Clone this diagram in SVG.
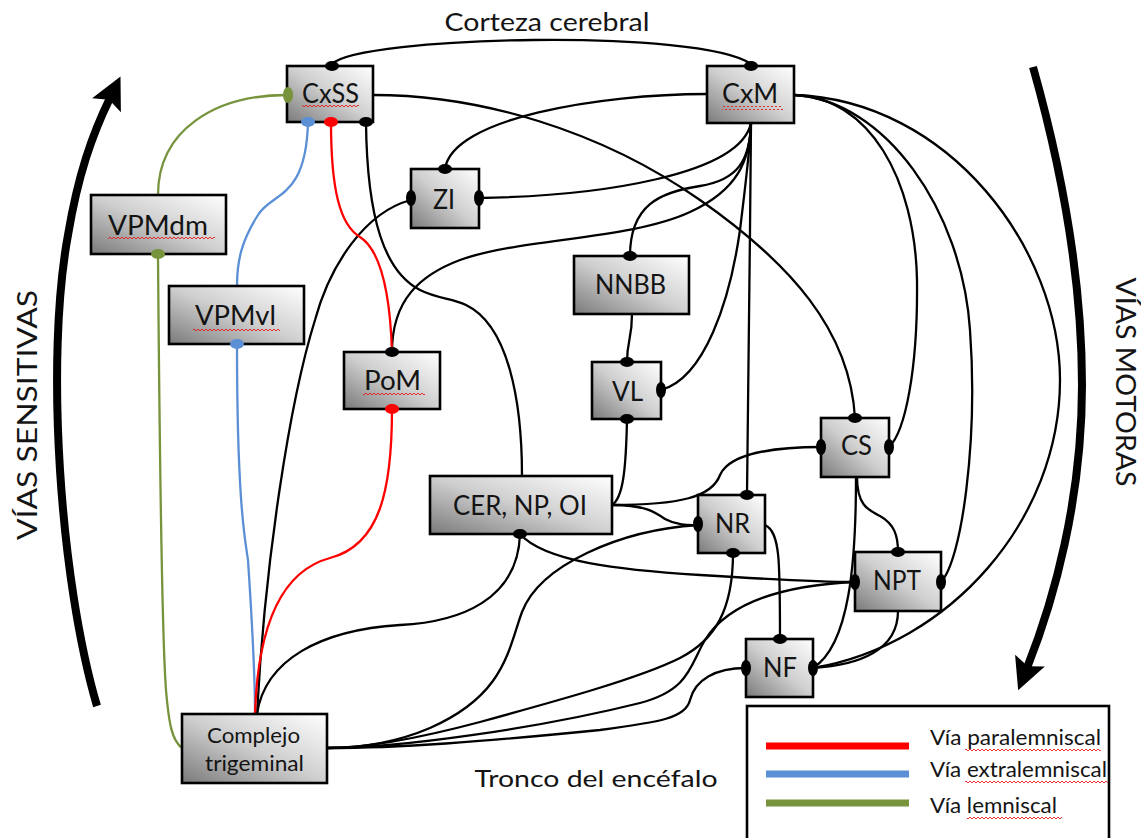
<svg xmlns="http://www.w3.org/2000/svg" width="1141" height="838" viewBox="0 0 1141 838">
<style>
.box{stroke:#000;stroke-width:2.6;fill:url(#g)}
.lbl{font-family:Lato,"Liberation Sans",sans-serif;font-size:26px;fill:#141414;text-anchor:middle}
.t{font-family:Lato,"Liberation Sans",sans-serif;fill:#141414}
.c{fill:none;stroke:#000;stroke-width:2.3}
.red{fill:none;stroke:#ff0000;stroke-width:2.3}
.blue{fill:none;stroke:#5b8fd6;stroke-width:2.3}
.green{fill:none;stroke:#77933c;stroke-width:2.3}
.big{fill:none;stroke:#000;stroke-width:8}
.sq{fill:url(#wave)}
</style>
<defs>
<linearGradient id="g" x1="0" y1="1" x2="1" y2="0">
<stop offset="0" stop-color="#7a7a7a"/>
<stop offset="0.5" stop-color="#cfcfcf"/>
<stop offset="1" stop-color="#ffffff"/>
</linearGradient>
<pattern id="wave" width="4" height="4" patternUnits="userSpaceOnUse">
<path d="M0,3 L2,1 L4,3" stroke="#e31b1b" stroke-width="0.9" fill="none"/>
</pattern>
<marker id="ah" orient="auto" markerUnits="userSpaceOnUse" markerWidth="1" markerHeight="1" overflow="visible" refX="0" refY="0">
<path d="M24,0 L-8,-16 L-2,0 L-8,16 Z" fill="#000"/>
</marker>
</defs>
<rect width="1141" height="838" fill="#fff"/>

<!-- big arrows -->
<path class="big" d="M97,706 C60,580 45,360 68,235 C78,175 92,135 110,98" marker-end="url(#ah)"/>
<path class="big" d="M1033,67 C1062,170 1082,280 1082,385 C1082,500 1054,600 1027,668" marker-end="url(#ah)"/>

<!-- side / section labels -->
<text class="t" font-size="25" x="547" y="31" text-anchor="middle" textLength="205" lengthAdjust="spacingAndGlyphs">Corteza cerebral</text>
<text class="t" font-size="24" x="596" y="787" text-anchor="middle" textLength="243" lengthAdjust="spacingAndGlyphs">Tronco del encéfalo</text>
<text class="t" font-size="27" transform="translate(37,415) rotate(-90)" text-anchor="middle" textLength="250" lengthAdjust="spacingAndGlyphs">VÍAS  SENSITIVAS</text>
<text class="t" font-size="27" transform="translate(1116,382) rotate(90)" text-anchor="middle" textLength="209" lengthAdjust="spacingAndGlyphs">VÍAS  MOTORAS</text>

<!-- connectors -->
<g id="connectors">
<path class="c" d="M332,64 C360,36 700,28 751,64"/>
<path class="c" d="M373,95 C480,95 600,130 700,200 C790,263 850,330 855,418"/>
<path class="c" d="M366,122 C367,220 385,272 420,290 C438,299 452,298 466,305 C508,325 522,400 522,476"/>
<path class="c" d="M707,94 C600,94 452,118 445,169"/>
<path class="c" d="M479,198 C600,196 740,175 751,123"/>
<path class="c" d="M630,256 C630,205 660,192 700,186 C738,180 750,160 751,123"/>
<path class="c" d="M392,352 C392,300 420,275 460,260 C520,238 630,240 690,212 C738,190 750,160 751,123"/>
<path class="c" d="M661,390 C705,378 730,300 740,230 C746,180 750,150 751,123"/>
<path class="c" d="M751,123 C750,250 748,400 747,495"/>
<path class="c" d="M794,95 C870,97 915,180 917,280 C918,370 905,432 889,447"/>
<path class="c" d="M794,95 C885,100 962,210 970,330 C978,440 962,560 941,582"/>
<path class="c" d="M794,95 C950,100 1060,250 1060,380 C1060,520 950,645 813,668"/>
<path class="c" d="M411,200 C365,212 330,265 315,320 C290,400 265,560 257,714"/>
<path class="c" d="M632,314 C632,340 627,340 627,362"/>
<path class="c" d="M627,419 C626,470 623,498 612,505"/>
<path class="c" d="M612,505 C680,505 712,497 720,475 C730,452 780,447 821,447"/>
<path class="c" d="M612,505 C645,505 655,512 665,519 C678,526 690,525 698,525"/>
<path class="c" d="M698,525 C620,530 540,565 522,612 C508,650 505,695 430,728 C390,745 350,748 327,748"/>
<path class="c" d="M520,534 C518,600 460,622 400,625 C320,630 265,660 257,714"/>
<path class="c" d="M520,534 C545,562 620,570 700,575 C780,580 820,582 855,582"/>
<path class="c" d="M733,553 C733,610 715,640 680,658 C640,678 560,700 480,722 C420,738 370,748 327,748"/>
<path class="c" d="M855,582 C790,585 730,600 705,640 C690,665 690,690 640,703 C540,728 400,748 327,748"/>
<path class="c" d="M746,668 C715,668 695,680 690,700 C686,718 660,722 600,730 C480,742 400,748 327,748"/>
<path class="c" d="M857,477 C857,505 868,510 880,516 C894,524 898,535 898,552"/>
<path class="c" d="M856,477 C856,560 850,645 813,668"/>
<path class="c" d="M898,611 C898,650 860,665 813,668"/>
<path class="c" d="M765,525 C780,532 780,560 780,639"/>
<!-- coloured pathways -->
<path class="green" d="M158,195 C158,130 215,95 287,95"/>
<path class="green" d="M158,256 C160,500 163,650 166,690 C169,725 172,740 182,748"/>
<path class="blue" d="M308,122 C306,200 272,192 258,215 C242,240 237,260 237,286"/>
<path class="blue" d="M237,344 C237,500 245,540 248,560 C252,620 255,680 255,714"/>
<path class="red" d="M331,122 C331,190 340,225 360,237 C380,250 390,290 392,352"/>
<path class="red" d="M392,409 C392,490 380,545 330,558 C285,570 258,620 255,714"/>
</g>

<!-- nodes -->
<g id="CxSS"><rect class="box" x="287" y="66" width="86" height="56"/><text class="lbl" x="330.5" y="103" textLength="57" lengthAdjust="spacingAndGlyphs">CxSS</text><rect class="sq" x="302" y="105" width="57" height="4"/></g>
<g id="CxM"><rect class="box" x="707" y="66" width="87" height="57"/><text class="lbl" x="750" y="103" textLength="56" lengthAdjust="spacingAndGlyphs">CxM</text><rect class="sq" x="722" y="106" width="61" height="4"/></g>
<g id="ZI"><rect class="box" x="411" y="169" width="68" height="59"/><text class="lbl" x="444" y="209" textLength="22" lengthAdjust="spacingAndGlyphs">ZI</text></g>
<g id="VPMdm"><rect class="box" x="91" y="195" width="135" height="59"/><text class="lbl" x="158" y="235" textLength="100" lengthAdjust="spacingAndGlyphs">VPMdm</text><rect class="sq" x="108" y="237" width="107" height="4"/></g>
<g id="NNBB"><rect class="box" x="574" y="256" width="115" height="58"/><text class="lbl" x="630.5" y="294" textLength="71" lengthAdjust="spacingAndGlyphs">NNBB</text></g>
<g id="VPMvl"><rect class="box" x="169" y="286" width="135" height="58"/><text class="lbl" x="235.5" y="325" textLength="81" lengthAdjust="spacingAndGlyphs">VPMvl</text><rect class="sq" x="193" y="327" width="87" height="4"/></g>
<g id="PoM"><rect class="box" x="344" y="352" width="96" height="57"/><text class="lbl" x="392.5" y="390" textLength="57" lengthAdjust="spacingAndGlyphs">PoM</text><rect class="sq" x="363" y="393" width="62" height="4"/></g>
<g id="VL"><rect class="box" x="592" y="362" width="69" height="57"/><text class="lbl" x="627.5" y="401" textLength="31" lengthAdjust="spacingAndGlyphs">VL</text></g>
<g id="CS"><rect class="box" x="821" y="418" width="68" height="59"/><text class="lbl" x="856.5" y="455" textLength="31" lengthAdjust="spacingAndGlyphs">CS</text></g>
<g id="CER"><rect class="box" x="430" y="476" width="182" height="58"/><text class="lbl" x="520" y="515" textLength="134" lengthAdjust="spacingAndGlyphs">CER, NP, OI</text></g>
<g id="NR"><rect class="box" x="698" y="495" width="67" height="58"/><text class="lbl" x="732.5" y="533" textLength="35" lengthAdjust="spacingAndGlyphs">NR</text></g>
<g id="NPT"><rect class="box" x="855" y="552" width="86" height="59"/><text class="lbl" x="897" y="590" textLength="48" lengthAdjust="spacingAndGlyphs">NPT</text></g>
<g id="NF"><rect class="box" x="746" y="639" width="67" height="58"/><text class="lbl" x="780" y="677" textLength="34" lengthAdjust="spacingAndGlyphs">NF</text></g>
<g id="Complejo"><rect class="box" x="182" y="714" width="145" height="69"/><text class="lbl" style="font-size:22px" x="253.5" y="743" textLength="93" lengthAdjust="spacingAndGlyphs">Complejo</text><text class="lbl" style="font-size:22px" x="254.5" y="771" textLength="99" lengthAdjust="spacingAndGlyphs">trigeminal</text></g>

<!-- terminal dots -->
<g id="terminals" fill="#000">
<ellipse cx="332" cy="66" rx="7" ry="5"/>
<ellipse cx="751" cy="66" rx="7" ry="5"/>
<ellipse cx="366" cy="122" rx="7" ry="5"/>
<ellipse cx="445" cy="169" rx="7" ry="5"/>
<ellipse cx="411" cy="198" rx="5" ry="8"/>
<ellipse cx="479" cy="198" rx="5" ry="8"/>
<ellipse cx="630" cy="256" rx="7" ry="5"/>
<ellipse cx="392" cy="352" rx="7" ry="5"/>
<ellipse cx="627" cy="362" rx="7" ry="5"/>
<ellipse cx="661" cy="390" rx="5" ry="8"/>
<ellipse cx="627" cy="419" rx="7" ry="5"/>
<ellipse cx="855" cy="418" rx="7" ry="5"/>
<ellipse cx="821" cy="447" rx="5" ry="8"/>
<ellipse cx="889" cy="447" rx="5" ry="8"/>
<ellipse cx="747" cy="495" rx="7" ry="5"/>
<ellipse cx="698" cy="524" rx="5" ry="8"/>
<ellipse cx="733" cy="553" rx="7" ry="5"/>
<ellipse cx="520" cy="534" rx="7" ry="5"/>
<ellipse cx="898" cy="552" rx="7" ry="5"/>
<ellipse cx="855" cy="582" rx="5" ry="8"/>
<ellipse cx="941" cy="582" rx="5" ry="8"/>
<ellipse cx="780" cy="639" rx="7" ry="5"/>
<ellipse cx="746" cy="668" rx="5" ry="8"/>
<ellipse cx="813" cy="668" rx="5" ry="8"/>
<ellipse cx="288" cy="95" rx="5" ry="8" fill="#77933c"/>
<ellipse cx="158" cy="254" rx="7" ry="5" fill="#77933c"/>
<ellipse cx="308" cy="122" rx="7" ry="5" fill="#5b8fd6"/>
<ellipse cx="237" cy="344" rx="7" ry="5" fill="#5b8fd6"/>
<ellipse cx="331" cy="122" rx="7" ry="5" fill="#ff0000"/>
<ellipse cx="392" cy="409" rx="7" ry="5" fill="#ff0000"/>
</g>

<!-- legend -->
<g id="legend">
<rect x="747" y="706" width="362" height="145" fill="#fff" stroke="#000" stroke-width="2.6"/>
<line x1="766" y1="746" x2="909" y2="746" stroke="#ff0000" stroke-width="7"/>
<line x1="766" y1="774" x2="909" y2="774" stroke="#5b8fd6" stroke-width="7"/>
<line x1="766" y1="803" x2="909" y2="803" stroke="#77933c" stroke-width="7"/>
<text class="t" font-size="21" x="930" y="745" textLength="171" lengthAdjust="spacingAndGlyphs">Vía paralemniscal</text>
<text class="t" font-size="21" x="930" y="777" textLength="177" lengthAdjust="spacingAndGlyphs">Vía extralemniscal</text>
<text class="t" font-size="21" x="930" y="813" textLength="127" lengthAdjust="spacingAndGlyphs">Vía lemniscal</text>
<rect class="sq" x="965" y="747" width="136" height="4"/>
<rect class="sq" x="965" y="779" width="143" height="4"/>
<rect class="sq" x="967" y="815" width="95" height="4"/>
</g>
</svg>
